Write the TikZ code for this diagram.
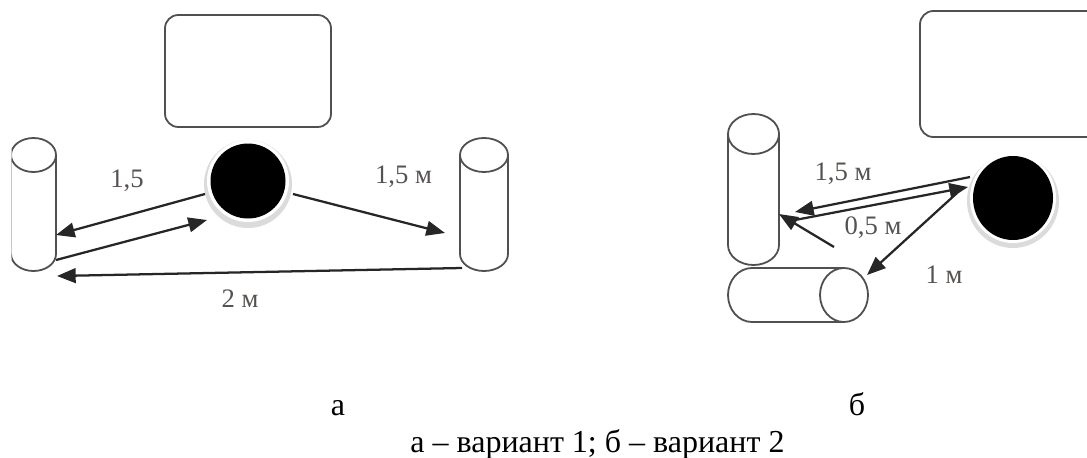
\documentclass[tikz,border=0pt]{standalone}
\usepackage{fontspec}
\setmainfont{Liberation Serif}
\usetikzlibrary{arrows.meta}
\definecolor{inkline}{HTML}{505050}
\definecolor{labelink}{HTML}{55524F}
\tikzset{
  shapeline/.style={draw=inkline,line width=1.35pt},
  fadeline/.style={draw=black!22,line width=1pt},
  arrowline/.style={draw=black!85,line width=1.7pt,-{Triangle[length=14pt,width=11pt]}},
  dimlabel/.style={text=labelink,font=\fontsize{20}{22}\selectfont,inner sep=0pt},
  caption/.style={text=black,font=\fontsize{24}{26}\selectfont,inner sep=0pt,anchor=base},
  halo/.style={fill=black!14,draw=none},
  ball/.style={fill=black,draw=none}
}
\begin{document}
\begin{tikzpicture}[x=0.75pt,y=-0.75pt]
\useasboundingbox (0,0) rectangle (1087,457);
% --- variant a
\draw[shapeline,rounded corners=10pt] (165,15) rectangle (331,127);
\fill[halo] (248,184) circle [radius=44];
\fill[white] (248,181) circle [radius=41];
\fill[ball] (248,181) circle [radius=37.5];
\draw[fadeline] (11.5,158) -- (11.5,258);
\begin{scope}
\clip (11.5,120) rectangle (70,290);
\draw[shapeline] (11,254) arc[start angle=180,end angle=0,x radius=22.5,y radius=17];
\draw[shapeline,line width=1.8pt] (56,254) -- (56,155);
\draw[shapeline] (33.5,155) ellipse [x radius=22.5,y radius=17];
\end{scope}
\draw[shapeline] (460,155) -- (460,254) arc[start angle=180,end angle=0,x radius=24,y radius=17] -- (508,155);
\draw[shapeline] (484,155) ellipse [x radius=24,y radius=17];
\coordinate (a1s) at (205,194); \coordinate (a1e) at (56,235);
\coordinate (a2s) at (56,260); \coordinate (a2e) at (207,220);
\coordinate (a3s) at (293,194); \coordinate (a3e) at (445,233);
\coordinate (a4s) at (462,268); \coordinate (a4e) at (57,276);
\draw[arrowline] (a1s) -- (a1e);
\draw[arrowline] (a2s) -- (a2e);
\draw[arrowline] (a3s) -- (a3e);
\draw[arrowline] (a4s) -- (a4e);
\node[dimlabel] (la1) at (127,181) {1,5};
\node[dimlabel] (la2) at (403.5,177) {1,5 м};
\node[dimlabel] (la3) at (240,299) {2 м};
% --- variant b
\begin{scope}
\clip (900,0) rectangle (1087,160);
\draw[shapeline,rounded corners=10pt] (920,11) rectangle (1110,137);
\end{scope}
\fill[halo] (1013,201) ellipse [x radius=46,y radius=47];
\fill[white] (1013,198) ellipse [x radius=43,y radius=45];
\fill[ball] (1013,198) ellipse [x radius=40,y radius=42];
\draw[shapeline] (728,134) -- (728,245) arc[start angle=180,end angle=0,x radius=25.5,y radius=20] -- (779,134);
\draw[shapeline] (753.5,134) ellipse [x radius=25.5,y radius=20];
\draw[shapeline] (844,268) -- (752,268) arc[start angle=270,end angle=90,x radius=24,y radius=27] -- (844,322);
\draw[shapeline] (844,295) ellipse [x radius=24,y radius=27];
\coordinate (b1s) at (970,177); \coordinate (b1e) at (795,212);
\coordinate (b2s) at (795,220); \coordinate (b2e) at (968,187);
\coordinate (b3s) at (834,247); \coordinate (b3e) at (779,214);
\coordinate (b4s) at (957,193); \coordinate (b4e) at (867,275);
\draw[arrowline] (b1s) -- (b1e);
\draw[arrowline] (b2s) -- (b2e);
\draw[arrowline] (b3s) -- (b3e);
\draw[arrowline] (b4s) -- (b4e);
\node[dimlabel] (lb1) at (843,174) {1,5 м};
\node[dimlabel] (lb2) at (873,228) {0,5 м};
\node[dimlabel] (lb3) at (944,275) {1 м};
% --- captions
\node[caption] (ca) at (338,415) {а};
\node[caption] (cb) at (857,415) {б};
\node[caption] (cc) at (597.5,452) {а – вариант 1; б – вариант 2};
\end{tikzpicture}
\end{document}
